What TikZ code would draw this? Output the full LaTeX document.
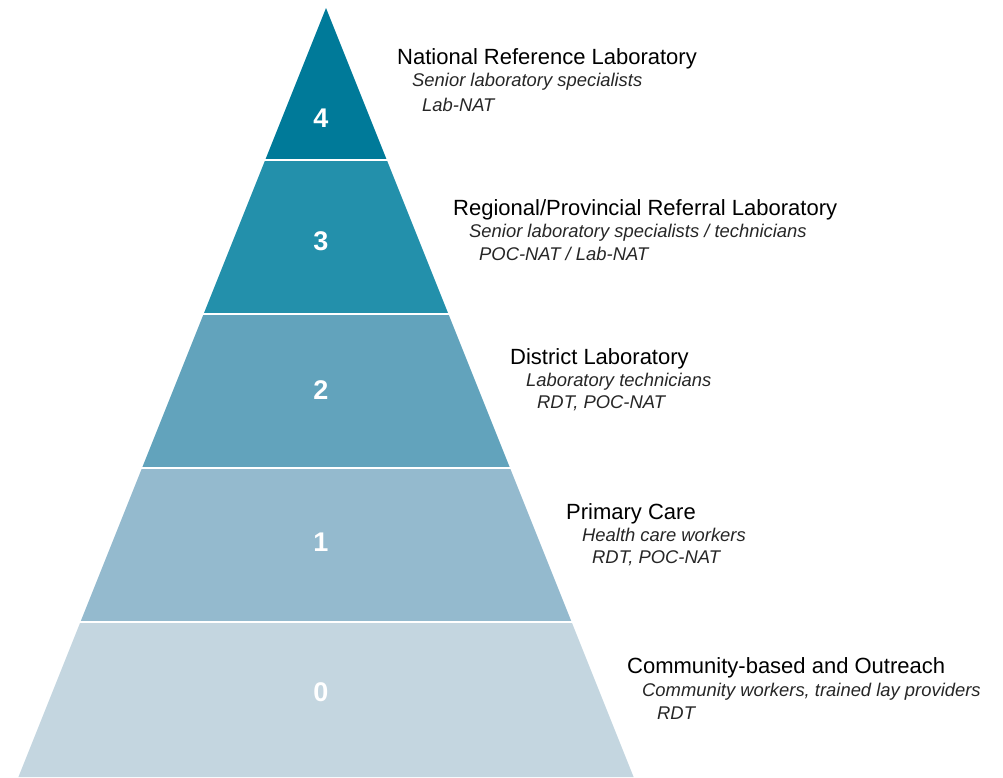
\documentclass[tikz,border=0pt]{standalone}
\usepackage{fontspec}
\setmainfont{Liberation Sans}
\definecolor{L4}{RGB}{0,122,153}
\definecolor{L3}{RGB}{35,144,171}
\definecolor{L2}{RGB}{98,163,188}
\definecolor{L1}{RGB}{148,186,206}
\definecolor{L0}{RGB}{196,214,224}
\tikzset{
  sep/.style={draw=white,line width=2pt},
  num/.style={text=white,font=\fontsize{27}{27}\selectfont\bfseries,anchor=center,inner sep=0pt},
  ttl/.style={anchor=base west,inner sep=0pt,font=\fontsize{22}{22}\selectfont,text=black},
  sub/.style={anchor=base west,inner sep=0pt,font=\fontsize{18.4}{18.4}\selectfont\itshape,text=black!85}
}
\begin{document}
\begin{tikzpicture}[x=1pt,y=-1pt]
\useasboundingbox (0,0) rectangle (1003,777);
% layers
\fill[L4] (326,8) -- (386.8,160) -- (265.2,160) -- cycle;
\fill[L3] (265.2,160) -- (386.8,160) -- (448.4,314) -- (203.6,314) -- cycle;
\fill[L2] (203.6,314) -- (448.4,314) -- (510,468) -- (142,468) -- cycle;
\fill[L1] (142,468) -- (510,468) -- (571.6,622) -- (80.4,622) -- cycle;
\fill[L0] (80.4,622) -- (571.6,622) -- (633.6,777) -- (18.4,777) -- cycle;
% separators
\draw[sep] (262,160) -- (390,160);
\draw[sep] (200,314) -- (452,314);
\draw[sep] (138,468) -- (514,468);
\draw[sep] (76,622) -- (576,622);
% numbers
\node[num] (n4) at (321,118) {4};
\node[num] (n3) at (321,241) {3};
\node[num] (n2) at (321,390) {2};
\node[num] (n1) at (321,542) {1};
\node[num] (n0) at (321,692) {0};
% labels
\node[ttl] (t4) at (397,64) {National Reference Laboratory};
\node[sub] (s4a) at (412,86) {Senior laboratory specialists};
\node[sub] (s4b) at (422,111) {Lab-NAT};
\node[ttl] (t3) at (453,215) {Regional/Provincial Referral Laboratory};
\node[sub] (s3a) at (469,237) {Senior laboratory specialists / technicians};
\node[sub] (s3b) at (479,260) {POC-NAT / Lab-NAT};
\node[ttl] (t2) at (510,364) {District Laboratory};
\node[sub] (s2a) at (526,386) {Laboratory technicians};
\node[sub] (s2b) at (537,408) {RDT, POC-NAT};
\node[ttl] (t1) at (566,519) {Primary Care};
\node[sub] (s1a) at (582,541) {Health care workers};
\node[sub] (s1b) at (592,563) {RDT, POC-NAT};
\node[ttl] (t0) at (627,673) {Community-based and Outreach};
\node[sub] (s0a) at (642,696) {Community workers, trained lay providers};
\node[sub] (s0b) at (657,719) {RDT};
\end{tikzpicture}
\end{document}
